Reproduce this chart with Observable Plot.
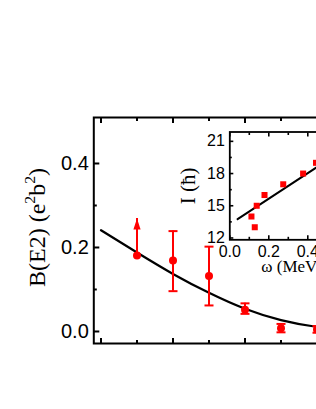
<!DOCTYPE html>
<html>
<head>
<meta charset="utf-8">
<script src="https://cdn.jsdelivr.net/npm/d3@7"></script>
<script src="https://cdn.jsdelivr.net/npm/@observablehq/plot@0.6"></script>
<style>
  html, body { margin: 0; padding: 0; background: white; }
  #wrap { position: relative; width: 316px; height: 409px; overflow: hidden; }
  #wrap svg { position: absolute; left: 0; top: 0; }
</style>
</head>
<body>
<div id="wrap"></div>
<script>
// ---- main panel data ----
const spinX = [1, 2, 3, 4, 5, 6];
const bE2 = [0.181, 0.169, 0.132, 0.052, 0.008, 0.005];
const errLo = [null, 0.096, 0.062, 0.042, -0.002, -0.003];
const errHi = [null, 0.239, 0.202, 0.067, 0.018, 0.013];
const limitX = [1];
const limitFrom = [0.181];
const limitTip = [0.269];
const curveX = [0, 1, 2, 3, 4, 5, 6, 7];
const curveY = [0.241, 0.188, 0.137, 0.092, 0.054, 0.027, 0.011, 0.004];
const mainYMajor = [0, 0.2, 0.4];
const mainYMinor = [0.1, 0.3];
const mainXMajor = [0, 2, 4, 6];
const mainXMinor = [1, 3, 5, 7];
const mainYLabel = ["B(E2) (e", "2", "b", "2", ")"];

// ---- inset data ----
const omega = [0.128, 0.111, 0.138, 0.178, 0.274, 0.376, 0.442];
const spinI = [13, 14, 15, 16, 17, 18, 19];
const fitOmega = [0.04, 0.64];
const fitI = [13.75, 20.89];
const insetYMajor = [12, 15, 18, 21];
const insetYMinor = [13.5, 16.5, 19.5];
const insetXMajor = [0, 0.2, 0.4, 0.6];
const insetXMinor = [0.1, 0.3, 0.5];

const points = spinX.map((x, i) => ({x, y: bE2[i], lo: errLo[i], hi: errHi[i]}));
const bars = points.filter(d => d.lo != null);
const limits = limitX.map((x, i) => ({x, from: limitFrom[i], tip: limitTip[i]}));
const curve = curveX.map((x, i) => ({x, y: curveY[i]}));
const inset = omega.map((w, i) => ({w, I: spinI[i]}));
const fit = fitOmega.map((w, i) => ({w, I: fitI[i]}));

const capSymbol = {draw(ctx) { ctx.moveTo(-4.5, 0); ctx.lineTo(4.5, 0); }};
const headSymbol = {draw(ctx) { ctx.moveTo(0, 0); ctx.lineTo(3.6, 11); ctx.lineTo(-3.6, 11); ctx.closePath(); }};
const blank = () => "";
const RED = "#ff0000";
const SERIF = "'Liberation Serif', 'Times New Roman', serif";
const LABEL_SIZE = 24;

const main = Plot.plot({
  width: 380, height: 409,
  marginLeft: 93.3, marginTop: 117, marginBottom: 66, marginRight: 20.3,
  x: {domain: [-0.2, 7.2], axis: null},
  y: {domain: [-0.0286, 0.5095], axis: null},
  style: {maxWidth: "none", background: "transparent", fontFamily: "'Liberation Sans', Arial, sans-serif", color: "black", overflow: "visible"},
  marks: [
    Plot.line(curve, {x: "x", y: "y", curve: "natural", stroke: "black", strokeWidth: 2.2}),
    Plot.ruleX(bars, {x: "x", y1: "lo", y2: "hi", stroke: RED, strokeWidth: 2}),
    Plot.dot(bars, {x: "x", y: "lo", symbol: capSymbol, stroke: RED, strokeWidth: 2, fill: "none"}),
    Plot.dot(bars, {x: "x", y: "hi", symbol: capSymbol, stroke: RED, strokeWidth: 2, fill: "none"}),
    Plot.ruleX(limits, {x: "x", y1: "from", y2: "tip", stroke: RED, strokeWidth: 2}),
    Plot.dot(limits, {x: "x", y: "tip", symbol: headSymbol, fill: RED, stroke: "none"}),
    Plot.dot(points, {x: "x", y: "y", r: 4, fill: RED}),
    Plot.axisY(mainYMajor, {anchor: "left", tickSize: -6, tickPadding: 11, strokeWidth: 2, tickFormat: d3.format(".1f"), fontSize: 20, label: null}),
    Plot.axisY(mainYMinor, {anchor: "left", tickSize: -3.5, strokeWidth: 2, tickFormat: blank, label: null}),
    Plot.axisX(mainXMajor, {anchor: "bottom", tickSize: -5, strokeWidth: 2, tickFormat: blank, label: null}),
    Plot.axisX(mainXMinor, {anchor: "bottom", tickSize: -3, strokeWidth: 2, tickFormat: blank, label: null}),
    Plot.axisX(mainXMajor, {anchor: "top", tickSize: -5, strokeWidth: 2, tickFormat: blank, label: null}),
    Plot.axisX(mainXMinor, {anchor: "top", tickSize: -3, strokeWidth: 2, tickFormat: blank, label: null}),
    Plot.frame({stroke: "black", strokeWidth: 2}),
    Plot.text([mainYLabel.join("")], {text: d => d, frameAnchor: "left", textAnchor: "middle", lineAnchor: "middle", dx: -56, dy: -3, rotate: -90, fontSize: LABEL_SIZE, fontFamily: SERIF, fill: "black"})
  ]
});

// rebuild the y label with real superscripts
d3.select(main).selectAll("text")
  .filter(function () { return this.textContent === mainYLabel.join(""); })
  .each(function () {
    const t = d3.select(this);
    t.text(null);
    const shift = LABEL_SIZE * 0.42;
    mainYLabel.forEach((part, i) => {
      const sup = i === 1 || i === 3;
      const ts = t.append("tspan").text(part);
      if (sup) ts.attr("font-size", LABEL_SIZE * 0.65).attr("dy", -shift);
      else if (i > 0) ts.attr("dy", shift);
    });
  });

const ins = Plot.plot({
  width: 400, height: 409,
  marginLeft: 229.3, marginTop: 131.5, marginBottom: 169.7, marginRight: 45.9,
  x: {domain: [0, 0.64], axis: null},
  y: {domain: [11.83, 21.87], axis: null},
  style: {maxWidth: "none", background: "transparent", fontFamily: "'Liberation Sans', Arial, sans-serif", color: "black", overflow: "visible"},
  marks: [
    Plot.line(fit, {x: "w", y: "I", stroke: "black", strokeWidth: 2}),
    Plot.dot(inset, {x: "w", y: "I", symbol: "square", r: 3.4, fill: RED}),
    Plot.axisY(insetYMajor, {anchor: "left", tickSize: -4, tickPadding: 9, strokeWidth: 1.6, fontSize: 16, label: null}),
    Plot.axisY(insetYMinor, {anchor: "left", tickSize: -2.5, strokeWidth: 1.6, tickFormat: blank, label: null}),
    Plot.axisX(insetXMajor, {anchor: "bottom", tickSize: -4, tickPadding: 10, strokeWidth: 1.6, tickFormat: d3.format(".1f"), fontSize: 16, label: null}),
    Plot.axisX(insetXMinor, {anchor: "bottom", tickSize: -2.5, strokeWidth: 1.6, tickFormat: blank, label: null}),
    Plot.axisX(insetXMajor, {anchor: "top", tickSize: -4, strokeWidth: 1.6, tickFormat: blank, label: null}),
    Plot.axisX(insetXMinor, {anchor: "top", tickSize: -2.5, strokeWidth: 1.6, tickFormat: blank, label: null}),
    Plot.frame({stroke: "black", strokeWidth: 1.8}),
    Plot.text(["I (ħ)"], {text: d => d, frameAnchor: "left", textAnchor: "middle", lineAnchor: "middle", dx: -42, rotate: -90, fontSize: 21, fontFamily: SERIF, fill: "black"}),
    Plot.text(["ω (MeV)"], {text: d => d, frameAnchor: "bottom", textAnchor: "middle", lineAnchor: "middle", dy: 27, fontSize: 17, fontFamily: SERIF, fill: "black"})
  ]
});

document.getElementById("wrap").append(main, ins);
</script>
</body>
</html>
